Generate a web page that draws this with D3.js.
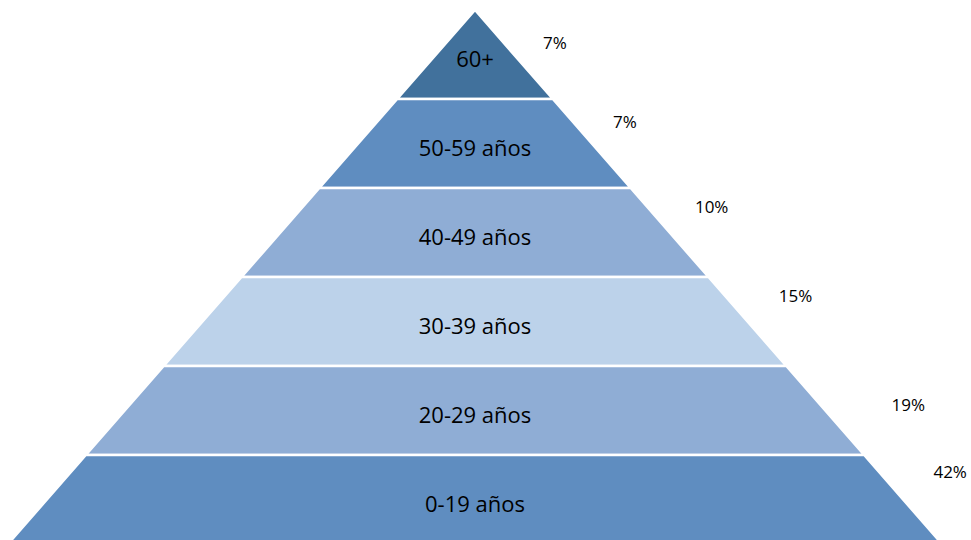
<!DOCTYPE html>
<html>
<head>
<meta charset="utf-8">
<script src="https://cdn.jsdelivr.net/npm/d3@7"></script>
<style>
html,body{margin:0;padding:0;background:#fff;}
svg{display:block;}
</style>
</head>
<body>
<svg id="chart" width="971" height="540"></svg>
<script>
// Data (top of pyramid to bottom)
const categories = ["60+", "50-59 años", "40-49 años", "30-39 años", "20-29 años", "0-19 años"];
const percents = [7, 7, 10, 15, 19, 42];
const percentLabels = ["7%", "7%", "10%", "15%", "19%", "42%"];
const colors = ["#41719C", "#5F8DC0", "#8FADD5", "#BCD2EA", "#8FADD5", "#5F8DC0"];
// layout nudges of the percent labels relative to the band's upper-right corner
const labelDx = [80, 72, 81, 87, 122, 86];
const labelDy = [39, 29, 25, 25, 45, 23];

const svg = d3.select("#chart");
const cx = 475;
const apexY = 10, baseY = 544;

const y = d3.scaleBand().domain(categories).range([apexY, baseY]).paddingInner(0);
const halfW = d3.scaleLinear().domain([apexY, baseY]).range([0, 467]);

const g = svg.append("g");

categories.forEach((c, i) => {
  const t = y(c), b = t + y.bandwidth();
  const pts = [
    [cx - halfW(t), t], [cx + halfW(t), t],
    [cx + halfW(b), b], [cx - halfW(b), b]
  ];
  g.append("path")
    .attr("d", d3.line()(pts) + "Z")
    .attr("fill", colors[i])
    .attr("stroke", "#ffffff")
    .attr("stroke-width", 2.5)
    .attr("stroke-linejoin", "miter");
});

// category labels
g.selectAll("text.cat").data(categories).enter().append("text")
  .attr("class", "cat")
  .attr("x", cx)
  .attr("y", d => y(d) + y.bandwidth() / 2 + 3)
  .attr("text-anchor", "middle")
  .attr("dominant-baseline", "central")
  .attr("font-family", "'Open Sans', sans-serif")
  .attr("font-size", 22)
  .attr("fill", "#000")
  .text(d => d);

// percent labels
g.selectAll("text.pct").data(categories).enter().append("text")
  .attr("class", "pct")
  .attr("x", (d, i) => cx + halfW(y(d)) + labelDx[i])
  .attr("y", (d, i) => y(d) + labelDy[i])
  .attr("text-anchor", "middle")
  .attr("font-family", "'Open Sans', sans-serif")
  .attr("font-size", 17)
  .attr("fill", "#000")
  .text((d, i) => percentLabels[i]);
</script>
</body>
</html>
